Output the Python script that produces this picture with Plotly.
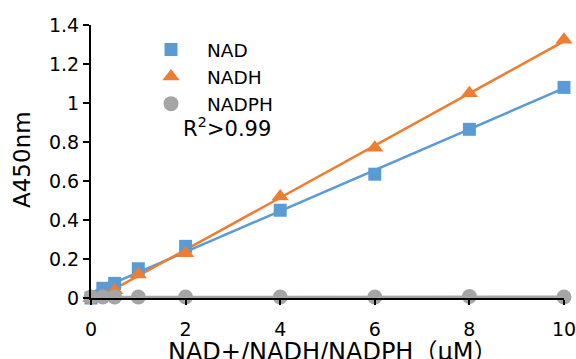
import numpy as np
import plotly.graph_objects as go

conc = [0, 0.25, 0.5, 1, 2, 4, 6, 8, 10]
nad = [0.0, 0.05, 0.075, 0.15, 0.265, 0.45, 0.635, 0.865, 1.08]
nadh = [0.0, 0.01, 0.04, 0.12, 0.23, 0.52, 0.77, 1.05, 1.325]
nadph = [0.005, 0.005, 0.005, 0.005, 0.005, 0.005, 0.005, 0.008, 0.005]
x_ticks = [0, 2, 4, 6, 8, 10]
y_ticks = [0, 0.2, 0.4, 0.6, 0.8, 1, 1.2, 1.4]
y_tick_text = ["0", "0.2", "0.4", "0.6", "0.8", "1", "1.2", "1.4"]

series = [
    ("NAD", nad, "#5B9BD5", "square", 13),
    ("NADH", nadh, "#ED7D31", "triangle-up", 15),
    ("NADPH", nadph, "#A5A5A5", "circle", 15),
]

fig = go.Figure()
xs = np.array(conc, dtype=float)
for name, ys, color, sym, size in series:
    k, b = np.polyfit(xs, np.array(ys, dtype=float), 1)
    xl = np.array([xs.min(), xs.max()])
    fig.add_trace(go.Scatter(x=xl, y=k * xl + b, mode="lines", showlegend=False,
                             line=dict(color=color, width=2.5), hoverinfo="skip"))
for name, ys, color, sym, size in series:
    fig.add_trace(go.Scatter(x=conc, y=ys, mode="markers", name=name, cliponaxis=False,
                             marker=dict(symbol=sym, size=size, color=color)))

W, H = 576, 359
L, R, T, B = 91, 12, 25, 61
pw, ph = W - L - R, H - T - B

def px(x, y):
    # window pixel -> paper coordinates
    return (x - L) / pw, (H - B - y) / ph

font_family = "DejaVu Sans, Noto Sans CJK SC, sans-serif"
ann = []
for text, (x, y), size, angle in [
    ("R<sup>2</sup>>0.99", (227, 127), 21, 0),
    ("NAD+/NADH/NADPH（μM）", (332, 352), 24, 0),
    ("A450nm", (22, 160), 23, -90),
]:
    ax, ay = px(x, y)
    ann.append(dict(x=ax, y=ay, xref="paper", yref="paper", text=text, showarrow=False,
                    font=dict(size=size), xanchor="center", yanchor="middle", textangle=angle))

lx, ly = px(135, 31)
fig.update_layout(
    width=W, height=H,
    margin=dict(l=L, r=R, t=T, b=B, autoexpand=False),
    paper_bgcolor="white", plot_bgcolor="white",
    font=dict(family=font_family, color="black", size=19),
    showlegend=True,
    legend=dict(x=lx, y=ly, xanchor="left", yanchor="top", bgcolor="rgba(0,0,0,0)",
                font=dict(size=18.5), itemwidth=62, tracegroupgap=0),
    xaxis=dict(range=[0, 10], tickvals=x_ticks, showline=True, linecolor="black", linewidth=2,
               ticks="outside", ticklen=5, tickwidth=2, tickcolor="black", showgrid=False,
               zeroline=False, tickfont=dict(size=19), automargin=False,
               ticklabeloverflow="allow", ticklabelstandoff=8),
    yaxis=dict(range=[0, 1.4], tickvals=y_ticks, ticktext=y_tick_text, showline=True,
               linecolor="black", linewidth=2, ticks="outside", ticklen=6, tickwidth=2,
               tickcolor="black", showgrid=False, zeroline=False, tickfont=dict(size=19),
               automargin=False, ticklabeloverflow="allow"),
    annotations=ann,
)

fig.write_html(
    "out.html",
    config={"displayModeBar": False},
    post_script="document.body.style.margin='0';document.body.style.overflow='hidden';",
)
